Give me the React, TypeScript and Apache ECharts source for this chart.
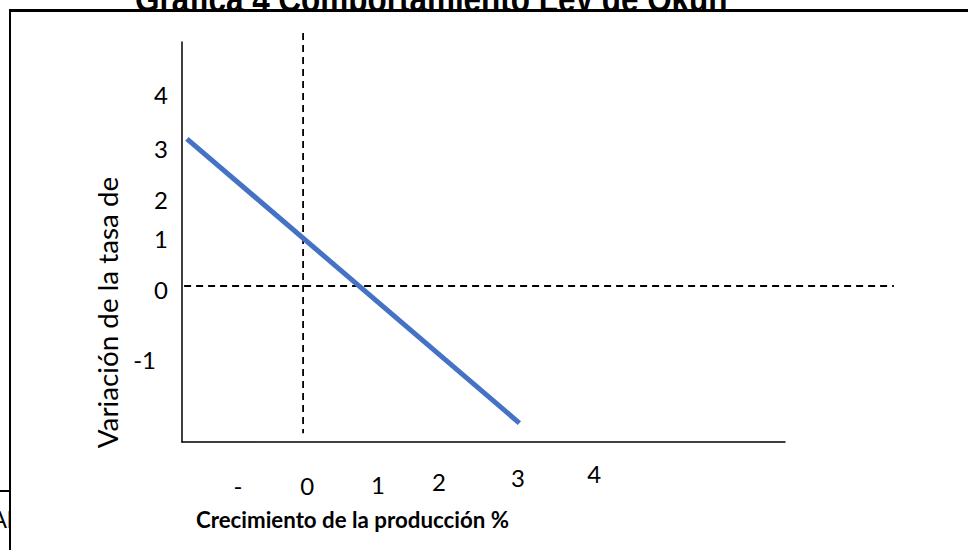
import React, { useEffect, useRef } from 'react';
import * as echarts from 'echarts';

// ---- Data ----
const titleText = 'Gráfica 4 Comportamiento Ley de Okun';
const xAxisTitle = 'Crecimiento de la producción %';
const yAxisTitle = 'Variación de la tasa de';
const fragmentText = 'Al';

const xTickValues = [-0.93, 0.06, 1.07, 1.94, 3.07, 4.16];
const xTickLabels = ['-', '0', '1', '2', '3', '4'];
const yTickValues = [4.16, 2.98, 1.89, 1.04, -0.07, -1.59];
const yTickLabels = ['4', '3', '2', '1', '0', '-1'];

const okunX = [-1.66, 3.09];
const okunY = [3.2, -2.98];
const verticalRefX = [0, 0];
const verticalRefY = [5.5, -3.2];
const horizontalRefX = [-1.7, 8.44];
const horizontalRefY = [0, 0];

const xRange = [-1.73, 6.884];
const xRangeWide = [-1.73, 8.456];
const yRange = [-3.391, 5.304];

// ---- Styles ----
const xLabelPadTop = [12, 12, 11, 8, 4, 0];
const yLabelPadRight = [0, 0, 0, 0, 0, 12];
const LABEL_FONT = 'Lato';

const zip = (xs: number[], ys: number[]) => xs.map((x, i) => [x, ys[i]]);
const findIdx = (arr: number[], v: number) => arr.findIndex((t) => Math.abs(t - v) < 1e-6);

export default function App() {
  const ref = useRef<HTMLDivElement>(null);

  useEffect(() => {
    if (!ref.current) return;
    const chart = echarts.init(ref.current, null, { renderer: 'svg' });

    const xRich: Record<string, any> = {};
    xTickLabels.forEach((_, i) => {
      xRich['x' + i] = {
        padding: [xLabelPadTop[i], 0, 0, 0],
        fontSize: 24,
        fontFamily: LABEL_FONT,
        color: '#000',
      };
    });
    const yRich: Record<string, any> = {};
    yTickLabels.forEach((_, i) => {
      yRich['y' + i] = {
        padding: [0, yLabelPadRight[i], 0, 0],
        fontSize: 24,
        fontFamily: LABEL_FONT,
        color: '#000',
      };
    });

    const hiddenAxis = {
      axisLine: { show: false },
      axisTick: { show: false },
      axisLabel: { show: false },
      splitLine: { show: false },
    };

    chart.setOption({
      animation: false,
      backgroundColor: '#fff',
      grid: [
        { left: 182, top: 42, width: 603, height: 400, containLabel: false },
        { left: 182, top: 42, width: 713, height: 400, containLabel: false },
      ],
      xAxis: [
        {
          type: 'value',
          gridIndex: 0,
          min: xRange[0],
          max: xRange[1],
          axisLine: { show: true, onZero: false, lineStyle: { color: '#000', width: 1.5 } },
          axisTick: { show: false },
          splitLine: { show: false },
          axisLabel: {
            customValues: xTickValues,
            margin: 19,
            verticalAlign: 'top',
            formatter: (v: number) => {
              const i = findIdx(xTickValues, v);
              return i < 0 ? '' : `{x${i}|${xTickLabels[i]}}`;
            },
            rich: xRich,
          },
        },
        { type: 'value', gridIndex: 1, min: xRangeWide[0], max: xRangeWide[1], ...hiddenAxis },
      ],
      yAxis: [
        {
          type: 'value',
          gridIndex: 0,
          min: yRange[0],
          max: yRange[1],
          axisLine: { show: true, onZero: false, lineStyle: { color: '#000', width: 1.5 } },
          axisTick: { show: false },
          splitLine: { show: false },
          axisLabel: {
            customValues: yTickValues,
            margin: 14,
            formatter: (v: number) => {
              const i = findIdx(yTickValues, v);
              return i < 0 ? '' : `{y${i}|${yTickLabels[i]}}`;
            },
            rich: yRich,
          },
        },
        { type: 'value', gridIndex: 1, min: yRange[0], max: yRange[1], ...hiddenAxis },
      ],
      series: [
        {
          name: 'Referencia vertical',
          type: 'line',
          xAxisIndex: 0,
          yAxisIndex: 0,
          data: zip(verticalRefX, verticalRefY),
          symbol: 'none',
          clip: false,
          z: 3,
          lineStyle: { color: '#000', width: 1.8, type: [7, 5] },
        },
        {
          name: 'Referencia horizontal',
          type: 'line',
          xAxisIndex: 1,
          yAxisIndex: 1,
          data: zip(horizontalRefX, horizontalRefY),
          symbol: 'none',
          clip: false,
          z: 3,
          lineStyle: { color: '#000', width: 1.8, type: [7, 5] },
        },
        {
          name: 'Ley de Okun',
          type: 'line',
          xAxisIndex: 0,
          yAxisIndex: 0,
          data: zip(okunX, okunY),
          symbol: 'none',
          clip: false,
          z: 4,
          lineStyle: { color: '#4472C4', width: 5, cap: 'butt' },
        },
      ],
      graphic: [
        {
          type: 'text',
          z: -20,
          x: 135,
          y: -1.2,
          scaleX: 0.828,
          style: {
            text: titleText,
            font: 'bold 38px "Liberation Sans", Arial, sans-serif',
            fill: '#000',
            align: 'left',
            verticalAlign: 'middle',
          },
        },
        {
          type: 'line',
          z: -20,
          shape: { x1: 0, y1: 491, x2: 10, y2: 491 },
          style: { stroke: '#000', lineWidth: 2 },
        },
        {
          type: 'text',
          z: -20,
          x: -9,
          y: 519,
          style: {
            text: fragmentText,
            font: '24px "Liberation Sans", Arial, sans-serif',
            fill: '#000',
            verticalAlign: 'middle',
          },
        },
        {
          type: 'rect',
          z: -10,
          shape: { x: 10, y: 11, width: 1000, height: 600 },
          style: { fill: '#fff', stroke: '#000', lineWidth: 2 },
        },
        {
          type: 'line',
          z: -9,
          shape: { x1: 9, y1: 10.5, x2: 968, y2: 10.5 },
          style: { stroke: '#000', lineWidth: 3 },
        },
        {
          type: 'text',
          z: 5,
          x: 107.5,
          y: 312.5,
          rotation: Math.PI / 2,
          style: {
            text: yAxisTitle,
            font: `27.8px ${LABEL_FONT}, sans-serif`,
            fill: '#000',
            align: 'center',
            verticalAlign: 'middle',
          },
        },
        {
          type: 'text',
          z: 5,
          x: 352.5,
          y: 519,
          style: {
            text: xAxisTitle,
            font: `bold 22.3px ${LABEL_FONT}, sans-serif`,
            fill: '#000',
            align: 'center',
            verticalAlign: 'middle',
          },
        },
      ],
    });

    return () => chart.dispose();
  }, []);

  return (
    <div
      ref={ref}
      style={{ position: 'fixed', left: 0, top: 0, width: 968, height: 550, background: '#fff' }}
    />
  );
}
